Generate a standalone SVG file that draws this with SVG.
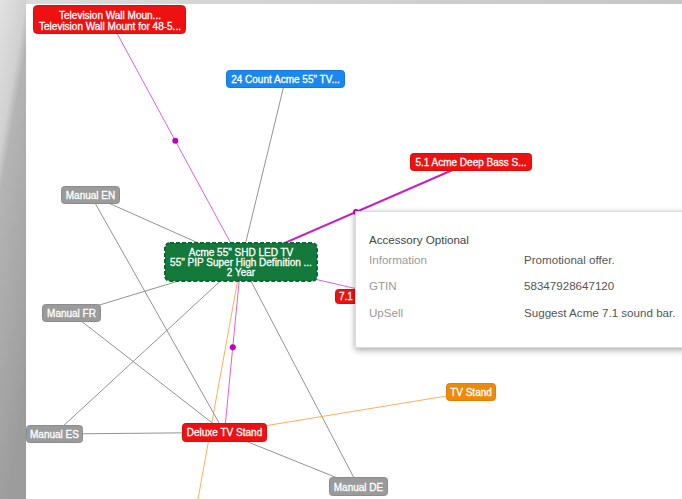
<svg xmlns="http://www.w3.org/2000/svg" width="682" height="499" viewBox="0 0 682 499">
<defs>
<linearGradient id="bgL" x1="0" y1="0" x2="0.3" y2="1">
<stop offset="0" stop-color="#e2e2e2"/>
<stop offset="0.28" stop-color="#d0d0d0"/>
<stop offset="0.36" stop-color="#b4b4b4"/>
<stop offset="1" stop-color="#9c9c9c"/>
</linearGradient>
<linearGradient id="bgT" x1="0" y1="0" x2="1" y2="0">
<stop offset="0" stop-color="#dcdcdc"/>
<stop offset="1" stop-color="#c6c6c6"/>
</linearGradient>
<filter id="sh" x="-10%" y="-10%" width="130%" height="130%">
<feDropShadow dx="0" dy="2" stdDeviation="3" flood-color="#000" flood-opacity="0.35"/>
</filter>
<style>
.e{fill:none;stroke:#939393;stroke-width:1}
.m{fill:none;stroke:#e060e0;stroke-width:1}
.mt{fill:none;stroke:#c41fc4;stroke-width:2}
.o{fill:none;stroke:#ffae5c;stroke-width:1}
.dot{fill:#c000c0}
.t{font-family:"Liberation Sans",Arial,sans-serif;font-size:10px;fill:#fff;stroke:#fff;stroke-width:0.3;text-anchor:middle}
.red{fill:#ee1111;stroke:#e00a0a}
.gray{fill:#9b9b9b;stroke:#8c8c8c}
.tl{font-family:"Liberation Sans",Arial,sans-serif;font-size:11.6px}
</style>
</defs>
<rect x="0" y="0" width="682" height="499" fill="#fff"/>
<rect x="0" y="0" width="682" height="4" fill="url(#bgT)"/>
<rect x="0" y="0" width="26" height="499" fill="url(#bgL)"/>
<g id="connectors">
<line class="m" x1="109.5" y1="19.5" x2="241" y2="262"/>
<circle class="dot" cx="175.3" cy="140.8" r="3"/>
<line class="e" x1="285.5" y1="79" x2="241" y2="262"/>
<line class="mt" x1="471" y1="162" x2="241" y2="262"/>
<circle class="dot" cx="356" cy="212" r="3"/>
<line class="e" x1="90.5" y1="195" x2="241" y2="262"/>
<line class="e" x1="71.5" y1="313.5" x2="241" y2="262"/>
<line class="m" x1="241" y1="262" x2="392" y2="297"/>
<line class="e" x1="54.5" y1="434" x2="241" y2="262"/>
<line class="o" x1="241" y1="262" x2="196" y2="510"/>
<line class="m" x1="241" y1="262" x2="224.5" y2="432.5"/>
<circle class="dot" cx="232.8" cy="347.3" r="3"/>
<line class="e" x1="241" y1="262" x2="358.5" y2="486.5"/>
<line class="e" x1="90.5" y1="195" x2="224.5" y2="432.5"/>
<line class="e" x1="71.5" y1="313.5" x2="224.5" y2="432.5"/>
<line class="e" x1="54.5" y1="434" x2="224.5" y2="432.5"/>
<line class="o" x1="224.5" y1="432.5" x2="471" y2="392"/>
<line class="e" x1="224.5" y1="432.5" x2="358.5" y2="486.5"/>
</g>
<g id="n-wallmount">
<rect class="red" x="33.5" y="5.5" width="152" height="28" rx="4"/>
<text class="t" x="110" y="18.5">Television Wall Moun...</text>
<text class="t" x="110" y="30">Television Wall Mount for 48-5...</text>
</g>
<g id="n-24count">
<rect x="226.5" y="70.5" width="118" height="17" rx="3" fill="#1a88f0" stroke="#1479dc"/>
<text class="t" x="285.5" y="82.8">24 Count Acme 55" TV...</text>
</g>
<g id="n-51acme">
<rect class="red" x="410.5" y="153.5" width="121" height="17" rx="3"/>
<text class="t" x="471" y="166">5.1 Acme Deep Bass S...</text>
</g>
<g id="n-manual-en">
<rect class="gray" x="61.5" y="186.5" width="58" height="17" rx="3"/>
<text class="t" x="90.5" y="198.5">Manual EN</text>
</g>
<g id="n-manual-fr">
<rect class="gray" x="42.5" y="304.5" width="58" height="17" rx="3"/>
<text class="t" x="71.5" y="317">Manual FR</text>
</g>
<g id="n-central">
<rect x="165" y="243" width="152" height="38" rx="5" fill="#137a3c" stroke="#0b6a2f" stroke-width="2" stroke-dasharray="4 2"/>
<text class="t" x="241" y="256">Acme 55" SHD LED TV</text>
<text class="t" x="241" y="266">55" PIP Super High Definition ...</text>
<text class="t" x="241" y="276">2 Year</text>
</g>
<g id="n-71">
<rect class="red" x="335.5" y="289.5" width="110" height="14" rx="3"/>
<text class="t" x="339" y="300" style="text-anchor:start">7.1</text>
</g>
<g id="n-manual-es">
<rect class="gray" x="26.5" y="425.5" width="56" height="17" rx="3"/>
<text class="t" x="54.5" y="438">Manual ES</text>
</g>
<g id="n-deluxe">
<rect class="red" x="182.5" y="423.5" width="84" height="18" rx="3"/>
<text class="t" x="224.5" y="436.3">Deluxe TV Stand</text>
</g>
<g id="n-tvstand">
<rect x="446.5" y="383.5" width="49" height="17" rx="3" fill="#ee8a0a" stroke="#e07f05"/>
<text class="t" x="471" y="396">TV Stand</text>
</g>
<g id="n-manual-de">
<rect class="gray" x="329.5" y="477.5" width="58" height="18" rx="3"/>
<text class="t" x="358.5" y="490.5">Manual DE</text>
</g>
<g id="tooltip">
<rect x="355.5" y="211.5" width="340" height="136" fill="#fff" stroke="#dcdcdc" filter="url(#sh)"/>
<text class="tl" x="369" y="243.5" fill="#444">Accessory Optional</text>
<text class="tl" x="369" y="263.5" fill="#9a9a9a">Information</text>
<text class="tl" x="524" y="263.5" fill="#555">Promotional offer.</text>
<text class="tl" x="369" y="290" fill="#9a9a9a">GTIN</text>
<text class="tl" x="524" y="290" fill="#555">58347928647120</text>
<text class="tl" x="369" y="316.5" fill="#9a9a9a">UpSell</text>
<text class="tl" x="524" y="316.5" fill="#555">Suggest Acme 7.1 sound bar.</text>
</g>
</svg>
